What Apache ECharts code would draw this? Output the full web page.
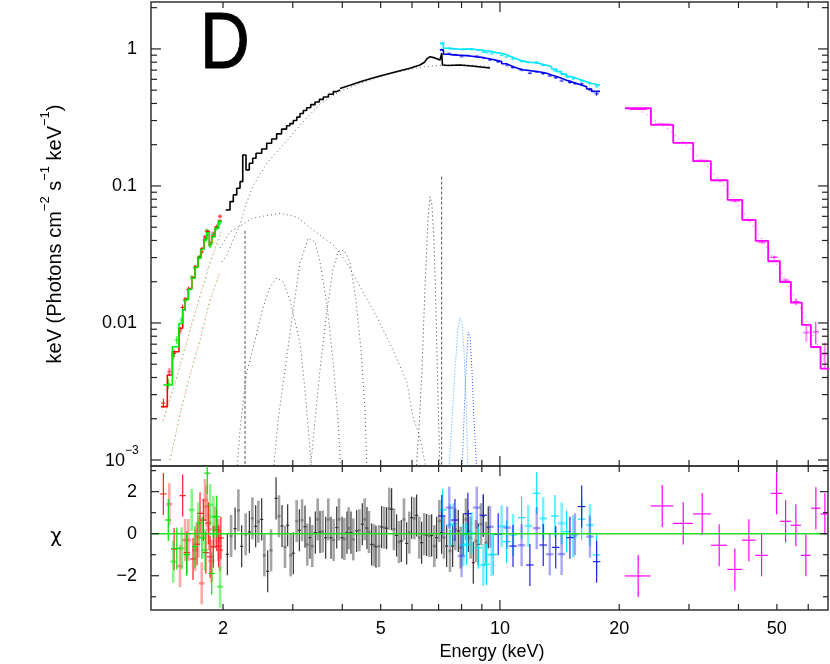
<!DOCTYPE html>
<html>
<head>
<meta charset="utf-8">
<script src="https://cdn.jsdelivr.net/npm/echarts/dist/echarts.min.js"></script>
<style>
  html, body { margin: 0; padding: 0; background: #fff; }
  #chart { width: 830px; height: 664px; }
</style>
</head>
<body>
<div id="chart"></div>
<script>
// axis ranges
const E_MIN = 1.316, E_MAX = 67.3
const F_MIN = 0.000904, F_MAX = 2.2
const CHI_MIN = -3.63, CHI_MAX = 3.22

// ticks and tick labels
const xMinorTicks = [2, 3, 4, 5, 6, 7, 8, 9, 20, 30, 40, 50, 60]
const xMajorTicks = [10]
const xTickLabels = [2, 5, 10, 20, 50]
const fMajorTicks = [0.001, 0.01, 0.1, 1]
const fMinorTicks = [0.002, 0.003, 0.004, 0.005, 0.006, 0.007, 0.008, 0.009,
  0.02, 0.03, 0.04, 0.05, 0.06, 0.07, 0.08, 0.09,
  0.2, 0.3, 0.4, 0.5, 0.6, 0.7, 0.8, 0.9, 2]
const fTickLabels = ['10', '0.01', '0.1', '1']
const chiMajorTicks = [-2, 0, 2]
const chiMinorTicks = [-3, -1, 1, 3]
const chiTickLabels = ['\u22122', '0', '2']

// ---- model step histograms (bin edges, values)
const redEdges = [1.395, 1.447, 1.490, 1.548, 1.582, 1.605, 1.635, 1.668, 1.700, 1.730, 1.760, 1.790, 1.819, 1.847, 1.873, 1.910, 1.948, 1.985]
const redModel = [0.00245, 0.00417, 0.00617, 0.00914, 0.01245, 0.0150, 0.0178, 0.0215, 0.0258, 0.0300, 0.0350, 0.0410, 0.0465, 0.0385, 0.0430, 0.0495, 0.0560]
const greenEdges = [1.414, 1.490, 1.548, 1.582, 1.605, 1.635, 1.668, 1.700, 1.730, 1.760, 1.790, 1.819, 1.847, 1.873, 1.910, 1.948, 1.985]
const greenModel = [0.00353, 0.00671, 0.0099, 0.0125, 0.0148, 0.0176, 0.0212, 0.0255, 0.0298, 0.0345, 0.0405, 0.0455, 0.0375, 0.0425, 0.0490, 0.0555]
const blackEdges = [2.031, 2.083, 2.123, 2.166, 2.208, 2.243, 2.286, 2.330, 2.377, 2.423, 2.504, 2.578, 2.653, 2.731, 2.811, 2.894, 2.950, 3.009,
  3.070, 3.128, 3.190, 3.252, 3.330, 3.414, 3.500, 3.583, 3.690, 3.797, 3.870, 3.947]
const blackModel = [0.0668, 0.0768, 0.0860, 0.0962, 0.1075, 0.1684, 0.1309, 0.1464, 0.1593, 0.1733, 0.1860, 0.2050, 0.2200, 0.2400, 0.2600, 0.2750, 0.2850,
  0.300, 0.318, 0.338, 0.355, 0.372, 0.392, 0.410, 0.428, 0.446, 0.467, 0.488, 0.502]
const blackLineE = [3.947, 4.20, 4.44, 4.75, 5.09, 5.50, 5.93, 6.28, 6.45, 6.55, 6.66, 6.85, 7.06, 7.11, 7.13, 7.16, 7.40, 7.92, 8.60, 9.44]
const blackLineF = [0.515, 0.545, 0.577, 0.610, 0.646, 0.685, 0.723, 0.764, 0.800, 0.850, 0.878, 0.860, 0.831, 0.830, 0.930, 0.764, 0.757, 0.764, 0.748, 0.725]
const xrtEdges = [7.06, 7.20, 7.40, 7.625, 7.90, 8.24, 8.50, 8.735, 9.00, 9.25, 9.55, 9.81, 10.10, 10.39, 10.65, 10.91, 11.20, 11.45, 11.90, 12.38, 12.75, 13.12, 13.50, 13.91, 14.30, 14.73, 15.15, 15.61, 16.05, 16.55, 17.04, 17.88]
const cyanModel = [1.09, 1.012, 1.005, 0.995, 0.998, 1.0, 0.99, 0.983, 0.970, 0.956, 0.940, 0.930, 0.905, 0.879, 0.855, 0.831, 0.815, 0.800, 0.790, 0.777, 0.760, 0.743, 0.713, 0.683, 0.655, 0.628, 0.610, 0.594, 0.577, 0.560, 0.546]
const blueModel = [0.983, 0.915, 0.905, 0.900, 0.894, 0.885, 0.875, 0.870, 0.855, 0.841, 0.825, 0.808, 0.780, 0.755, 0.735, 0.715, 0.705, 0.694, 0.685, 0.675, 0.665, 0.645, 0.630, 0.610, 0.590, 0.577, 0.560, 0.546, 0.530, 0.510, 0.490]
const pinEdges = [20.68, 24.05, 27.37, 30.74, 34.07, 37.55, 40.88, 44.19, 47.53, 50.88, 54.26, 57.81, 60.93, 64.45, 67.8]
const pinModel = [0.369, 0.2788, 0.2060, 0.1515, 0.1100, 0.0790, 0.0565, 0.0397, 0.0282, 0.0199, 0.01406, 0.00967, 0.00668, 0.00464]

// ---- model components (dotted)
const compAE = [1.988, 2.047, 2.120, 2.208, 2.273, 2.380, 2.582, 2.867, 3.166, 3.514, 3.947, 4.511, 5.186, 6.283, 7.060, 7.925, 9.436]
const compAF = [0.0279, 0.0314, 0.0404, 0.0519, 0.0703, 0.100, 0.147, 0.206, 0.288, 0.397, 0.490, 0.570, 0.650, 0.735, 0.760, 0.770, 0.745]
const compBE = [1.966, 2.083, 2.208, 2.380, 2.788, 3.074, 3.372, 3.800, 4.108, 4.439, 4.891, 5.374, 5.830, 6.033, 6.283, 6.543]
const compBF = [0.0353, 0.0461, 0.0510, 0.0584, 0.0632, 0.0594, 0.0477, 0.0371, 0.0274, 0.0183, 0.01106, 0.00635, 0.00365, 0.00206, 0.00147, 0.0008]
const line1E = [2.166, 2.208, 2.296, 2.385, 2.527, 2.628, 2.733, 2.840, 2.952, 3.128, 3.221, 3.316, 3.354]
const line1F = [0.0008, 0.00166, 0.00439, 0.00668, 0.0131, 0.0183, 0.0213, 0.0199, 0.01472, 0.00714, 0.00324, 0.00118, 0.0008]
const line2E = [2.679, 2.754, 2.868, 2.987, 3.128, 3.284, 3.414, 3.514, 3.660, 3.789, 3.901, 3.970]
const line2F = [0.0008, 0.00196, 0.00454, 0.01088, 0.0274, 0.0417, 0.0390, 0.0279, 0.01353, 0.00537, 0.00196, 0.0008]
const line3E = [3.316, 3.414, 3.514, 3.660, 3.789, 3.901, 4.041, 4.183, 4.331, 4.460, 4.565, 4.618]
const line3F = [0.0008, 0.00196, 0.00454, 0.01245, 0.02437, 0.0330, 0.0341, 0.0279, 0.01472, 0.00635, 0.00232, 0.0008]
const fe1E = [6.138, 6.245, 6.355, 6.466, 6.580, 6.661, 6.734, 6.814, 6.895, 6.978, 7.060]
const fe1F = [0.0008, 0.00166, 0.00454, 0.0174, 0.0565, 0.0835, 0.0727, 0.0404, 0.01245, 0.00274, 0.0008]
const fe2E = [7.436, 7.567, 7.700, 7.834, 7.925, 8.018, 8.112, 8.207, 8.304]
const fe2F = [0.0008, 0.00196, 0.00454, 0.00889, 0.01088, 0.01017, 0.00635, 0.00274, 0.0008]
const fe3E = [8.018, 8.112, 8.207, 8.318, 8.401, 8.499, 8.598, 8.750]
const fe3F = [0.0008, 0.00196, 0.00454, 0.0086, 0.00804, 0.00454, 0.00196, 0.0008]
const edgeE = [2.273, 7.126]
const edgeTopF = [0.047, 0.117]
const rgCompAE = [1.411, 1.487, 1.558, 1.651, 1.750, 1.855, 1.977]
const rgCompAF = [0.00196, 0.00313, 0.00494, 0.00889, 0.0160, 0.0279, 0.0461]
const rgCompBE = [1.470, 1.573, 1.651, 1.750, 1.855, 1.966]
const rgCompBF = [0.001, 0.00244, 0.00417, 0.00751, 0.01472, 0.02357]
const pinCompE = [22.34, 23.9, 26.6, 29.5, 33.2, 36.97, 41.5, 45.3, 50.9, 57.15, 64.2, 67.3]
const pinCompF = [0.365, 0.321, 0.2594, 0.199, 0.1423, 0.0988, 0.0625, 0.0432, 0.0244, 0.01315, 0.00635, 0.0048]

// ---- data points, upper panel (energy, flux, flux error)
const redDataE = [1.414, 1.464, 1.505, 1.558, 1.582, 1.604, 1.635, 1.700, 1.750, 1.767, 1.801, 1.819, 1.855, 1.891, 1.928, 1.966]
const redDataF = [0.0026, 0.0044, 0.0060, 0.0088, 0.0130, 0.0148, 0.0176, 0.0255, 0.0305, 0.0330, 0.0425, 0.0470, 0.0375, 0.0450, 0.0505, 0.0600]
const redDataErr = [0.0002, 0.0003, 0.0004, 0.0005, 0.0006, 0.0007, 0.0008, 0.0010, 0.0012, 0.0014, 0.0015, 0.0016, 0.0015, 0.0016, 0.0018, 0.0020]
const greenDataE = [1.455, 1.498, 1.529, 1.573, 1.604, 1.667, 1.700, 1.733, 1.801, 1.825, 1.855, 1.891, 1.928, 1.966]
const greenDataF = [0.0036, 0.0058, 0.0075, 0.0105, 0.0145, 0.0215, 0.0252, 0.0300, 0.0400, 0.0470, 0.0365, 0.0440, 0.0490, 0.0540]
const greenDataErr = [0.0003, 0.0004, 0.0005, 0.0006, 0.0007, 0.0009, 0.0010, 0.0012, 0.0015, 0.0016, 0.0015, 0.0016, 0.0017, 0.0020]
const cyanDataE = [7.17, 7.48, 7.625, 8.08, 8.24, 8.48, 8.815, 9.08, 9.25, 9.53, 10.1, 10.39, 10.79, 11.34, 11.79, 12.38, 12.86, 13.77, 14.31, 14.73, 15.31, 16.08, 16.87, 17.54]
const cyanDataF = [1.11, 1.01, 1.0, 0.99, 0.995, 0.99, 0.975, 0.95, 0.94, 0.925, 0.90, 0.875, 0.845, 0.81, 0.795, 0.80, 0.76, 0.695, 0.66, 0.63, 0.605, 0.585, 0.56, 0.535]
const cyanDataErr = [0.016, 0.012, 0.012, 0.012, 0.012, 0.012, 0.012, 0.012, 0.012, 0.012, 0.012, 0.012, 0.012, 0.013, 0.013, 0.013, 0.013, 0.013, 0.013, 0.014, 0.014, 0.014, 0.015, 0.016]
const blueDataE = [7.13, 7.45, 7.70, 8.0, 8.3, 8.74, 9.08, 9.44, 9.90, 10.43, 10.79, 11.34, 11.9, 12.38, 12.86, 13.36, 13.83, 14.31, 15.02, 15.46, 16.08, 16.87, 17.54]
const blueDataF = [0.99, 0.925, 0.91, 0.88, 0.895, 0.885, 0.86, 0.83, 0.805, 0.76, 0.73, 0.70, 0.665, 0.68, 0.66, 0.635, 0.615, 0.585, 0.57, 0.56, 0.555, 0.505, 0.47]
const blueDataErr = [0.015, 0.012, 0.012, 0.012, 0.012, 0.012, 0.012, 0.012, 0.012, 0.012, 0.012, 0.012, 0.012, 0.013, 0.013, 0.013, 0.013, 0.013, 0.014, 0.014, 0.014, 0.015, 0.016]
const pinDataE = [22.37, 25.7, 29.05, 32.4, 35.8, 39.2, 42.5, 45.85, 49.2, 52.6, 55.9, 59.35, 62.7, 66.05]
const pinDataF = [0.362, 0.283, 0.2075, 0.153, 0.1093, 0.0775, 0.0562, 0.0388, 0.0302, 0.0205, 0.0143, 0.0085, 0.0086, 0.0059]
const pinDataErr = [0.004, 0.004, 0.003, 0.0025, 0.002, 0.0015, 0.0012, 0.0009, 0.0008, 0.0007, 0.0008, 0.0012, 0.0016, 0.0013]

// ---- residuals (energy, chi)
const redResE = [1.414, 1.464, 1.505, 1.558, 1.582, 1.604, 1.620, 1.635, 1.680, 1.700, 1.720, 1.733, 1.750, 1.767, 1.784, 1.801, 1.810, 1.819, 1.837, 1.845, 1.855, 1.870, 1.891, 1.910, 1.928, 1.946, 1.950, 1.966, 1.975]
const redResChi = [1.89, 1.40, -0.73, -1.54, 1.81, -0.30, -0.90, -0.30, -1.20, -0.78, -0.50, -0.14, 0.97, -2.36, 0.65, 1.60, -0.90, 1.29, 0.50, 0.20, -1.10, -1.30, -0.62, 0.30, 0.18, -0.30, -0.60, -0.78, -0.20]
const greenResE = [1.455, 1.498, 1.529, 1.573, 1.620, 1.667, 1.700, 1.733, 1.770, 1.801, 1.825, 1.855, 1.873, 1.891, 1.928, 1.966]
const greenResChi = [0.65, -1.33, -0.70, -0.70, -1.00, 1.13, -0.62, 0.50, -0.20, -0.78, 2.88, 1.37, -1.89, 0.81, 0.81, -2.52]
const blackResE = [2.051, 2.096, 2.145, 2.187, 2.229, 2.282, 2.331, 2.372, 2.418, 2.456, 2.504, 2.543, 2.593, 2.644, 2.722, 2.769, 2.818, 2.867, 2.912, 2.963,
  3.009, 3.068, 3.117, 3.166, 3.221, 3.264, 3.315, 3.360, 3.420, 3.467, 3.514, 3.569, 3.632, 3.688, 3.746, 3.804, 3.873, 3.924, 3.994, 4.048,
  4.111, 4.151, 4.207, 4.264, 4.348, 4.417, 4.493, 4.555, 4.617, 4.671, 4.745, 4.809, 4.865, 4.951, 5.028, 5.107, 5.176, 5.257, 5.328, 5.400,
  5.485, 5.560, 5.636, 5.725, 5.815, 5.905, 5.985, 6.079, 6.162, 6.259, 6.344, 6.443, 6.531, 6.634, 6.724, 6.830, 6.923, 7.031, 7.125, 7.223,
  7.337, 7.480, 7.597, 7.716, 7.850, 7.957, 8.081, 8.207, 8.320, 8.433, 8.565, 8.699, 8.817, 8.956, 9.078, 9.220, 9.344]
const blackResChi = [-0.98, -0.11, 0.24, 1.11, -0.60, -0.03, 0.08, 0.73, 0.35, 0.57, 0.68, -1.03, -1.79, -0.79, 1.68, 0.83, 0.37, -0.63, 0.40, -1.03,
  -0.93, 0.60, 0.16, 0.64, 0.33, -0.52, -0.19, -0.59, 0.05, 0.68, 0.08, 0.10, -0.19, 0.68, -0.19, -0.30, 0.29, 0.68, -0.19, -0.25,
  0.05, 0.26, 0.05, -0.27, 0.13, 0.16, 0.45, 0.68, 0.27, 0.08, -0.51, -0.55, -0.62, -0.59, 0.32, 0.29, 0.26, 1.19, 1.16, 0.21,
  -0.08, -0.40, -0.35, 0.68, -0.46, 0.05, 0.76, 0.73, 0.87, -0.19, -0.43, -0.03, -0.06, -0.11, -0.08, -0.59, -0.19, 0.60, 0.05, -0.19,
  -0.59, -0.82, -0.59, 0.21, 0.13, -0.66, -0.03, 0.68, 0.13, -0.19, -1.38, -0.35, -0.51, 0.45, 0.84, -0.43, 0.29]
const cyanResE = [7.17, 7.48, 7.625, 8.08, 8.24, 8.48, 8.815, 9.08, 9.25, 9.53, 9.62, 10.1, 10.39, 10.79, 11.34, 11.79, 12.38, 12.86, 13.77, 14.31, 14.73, 15.31, 16.08, 16.87, 17.54]
const cyanResChi = [1.13, 0.41, 0.45, -0.54, -0.50, 0.02, -0.67, -1.49, -1.46, -1.01, -0.98, 0.35, -0.38, -0.06, 0.76, 0.37, 1.92, 0.73, 0.84, 0.49, 0.10, -0.14, 0.69, 0.41, -1.01]
const blueResE = [7.13, 7.45, 7.70, 8.0, 8.3, 8.74, 9.08, 9.44, 9.90, 10.43, 10.79, 11.34, 11.9, 12.38, 12.86, 13.36, 13.83, 14.31, 15.02, 15.46, 16.08, 16.87, 17.54]
const blueResChi = [0.84, 1.24, 0.65, -1.06, 0.95, 1.24, 0.88, 0.33, -0.03, 0.29, -0.59, -0.55, -1.49, 0.26, -0.54, -0.98, -0.65, -0.97, -0.19, -0.03, 1.29, -0.14, -1.33]
const pinResE = [22.33, 25.68, 29.01, 32.4, 35.76, 39.17, 42.49, 45.75, 49.91, 52.6, 55.83, 59.17, 62.72, 66.09]
const pinResChi = [-2.01, 1.32, 0.49, 0.94, -0.55, -1.70, -0.31, -1.03, 1.92, 0.59, 0.40, -1.03, 1.21, 0.94]

const FONT = '"Liberation Sans", Arial, Helvetica, sans-serif'

function stepData (edges, vals) {
  let out = vals.map((v, i) => [edges[i], v])
  out.push([edges[edges.length - 1], vals[vals.length - 1]])
  return out
}
function zip (xs, ys) {
  return xs.map((x, i) => [x, ys[i]])
}

function lineSeries (gi, data, color, width, type, z, step) {
  return {
    type: 'line', xAxisIndex: gi, yAxisIndex: gi, data,
    step: step || false, symbol: 'none', silent: true, animation: false, z,
    lineStyle: { color, width, type: type || 'solid' }
  }
}

// error crosses: [x, xlo, xhi, y, ylo, yhi, alt]
function crossSeries (gi, items, colors, widths, z) {
  return {
    type: 'custom', xAxisIndex: gi, yAxisIndex: gi, silent: true, clip: true, z, animation: false,
    dimensions: ['x', 'xlo', 'xhi', 'y', 'ylo', 'yhi', 'alt'],
    encode: { x: 0, y: 3 },
    data: items,
    renderItem (params, api) {
      let alt = api.value(6)
      let st = { stroke: colors[alt], lineWidth: widths[alt] }
      let a = api.coord([api.value(1), api.value(3)])
      let b = api.coord([api.value(2), api.value(3)])
      let c = api.coord([api.value(0), api.value(4)])
      let d = api.coord([api.value(0), api.value(5)])
      return {
        type: 'group',
        children: [
          { type: 'line', shape: { x1: a[0], y1: a[1], x2: b[0], y2: b[1] }, style: st },
          { type: 'line', shape: { x1: c[0], y1: c[1], x2: d[0], y2: d[1] }, style: st }
        ]
      }
    }
  }
}

function dataItems (E, F, err, frac) {
  return E.map((e, i) => [e, e * (1 - frac), e * (1 + frac), F[i], F[i] - err[i], F[i] + err[i], i % 2])
}
function resItems (E, chi, frac) {
  return E.map((e, i) => [e, e * (1 - frac), e * (1 + frac), chi[i], chi[i] - 1, chi[i] + 1, i % 2])
}
function resItemsAbs (E, chi, half) {
  return E.map((e, i) => [e, e - half, e + half, chi[i], chi[i] - 1, chi[i] + 1, 0])
}

function textEl (x, y, text, size, align, valign) {
  return {
    type: 'text', x, y,
    style: {
      text, x: 0, y: 0, fill: '#000', font: size + 'px ' + FONT,
      fontSize: size, fontFamily: FONT,
      align, textAlign: align, verticalAlign: valign, textVerticalAlign: valign
    }
  }
}

// frame ticks and tick labels, drawn through the axes of one grid
function frameSeries (gi, yMin, yMax, yMajor, yMinor, yMajorLen, yMinorLen, yLabels, withXLabels, probe) {
  return {
    type: 'custom', xAxisIndex: gi, yAxisIndex: gi, silent: true, clip: false, z: 20, animation: false,
    data: [probe],
    renderItem (params, api) {
      let kids = []
      let seg = (p, q) => kids.push({ type: 'line', shape: { x1: p[0], y1: p[1], x2: q[0], y2: q[1] }, style: { stroke: '#222', lineWidth: 1.2 } })
      xMinorTicks.map(v => [v, 6]).concat(xMajorTicks.map(v => [v, 10])).forEach(([v, len]) => {
        let b = api.coord([v, yMin])
        let t = api.coord([v, yMax])
        seg(b, [b[0], b[1] - len])
        seg(t, [t[0], t[1] + len])
      })
      yMinor.map(v => [v, yMinorLen]).concat(yMajor.map(v => [v, yMajorLen])).forEach(([v, len]) => {
        let l = api.coord([E_MIN, v])
        let r = api.coord([E_MAX, v])
        seg(l, [l[0] + len, l[1]])
        seg(r, [r[0] - len, r[1]])
      })
      yMajor.forEach((v, i) => {
        let l = api.coord([E_MIN, v])
        if (gi === 0 && i === 0) {
          kids.push(textEl(l[0] - 26, l[1] + 1, yLabels[i], 18, 'right', 'middle'))
          kids.push(textEl(l[0] - 26, l[1] - 9, '\u22123', 12, 'left', 'middle'))
        } else {
          kids.push(textEl(l[0] - 14, l[1], yLabels[i], 18, 'right', 'middle'))
        }
      })
      if (withXLabels) {
        xTickLabels.forEach(v => {
          let b = api.coord([v, yMin])
          kids.push(textEl(b[0], b[1] + 19, String(v), 18, 'center', 'middle'))
        })
      }
      return { type: 'group', children: kids }
    }
  }
}

const series = [
  // model components, upper panel
  lineSeries(0, zip(compAE, compAF), '#666', 1, [1, 3], 2),
  lineSeries(0, zip(compBE, compBF), '#666', 1, [1, 3], 2),
  lineSeries(0, zip(line1E, line1F), '#555', 1, [1, 3], 2),
  lineSeries(0, zip(line2E, line2F), '#555', 1, [1, 3], 2),
  lineSeries(0, zip(line3E, line3F), '#555', 1, [1, 3], 2),
  lineSeries(0, zip(fe1E, fe1F), '#333', 1, [1, 3], 2),
  lineSeries(0, zip(fe2E, fe2F), '#33aaff', 1, [1, 2], 2),
  lineSeries(0, zip(fe3E, fe3F), '#3355ff', 1, [1, 2], 2),
  lineSeries(0, [[edgeE[0], edgeTopF[0]], [edgeE[0], 0.0008]], '#555', 1, [3, 2], 2),
  lineSeries(0, [[edgeE[1], edgeTopF[1]], [edgeE[1], 0.0008]], '#555', 1, [3, 2], 2),
  lineSeries(0, zip(rgCompAE, rgCompAF), 'rgba(255,80,80,0.8)', 1, [1, 3], 2),
  lineSeries(0, zip(rgCompAE, rgCompAF.map(v => v * 0.97)), 'rgba(60,220,60,0.8)', 1, [1, 4], 2),
  lineSeries(0, zip(rgCompBE, rgCompBF), 'rgba(255,80,80,0.8)', 1, [1, 3], 2),
  lineSeries(0, zip(rgCompBE, rgCompBF), 'rgba(60,220,60,0.8)', 1, [1, 4], 2),
  lineSeries(0, zip(pinCompE, pinCompF), 'rgba(255,60,255,0.7)', 1.2, [1, 4], 2),
  // data crosses, upper panel
  crossSeries(0, dataItems(redDataE, redDataF, redDataErr, 0.012), ['#ff0000', 'rgba(255,0,0,0.5)'], [1, 2], 3),
  crossSeries(0, dataItems(greenDataE, greenDataF, greenDataErr, 0.012), ['#00ee00', 'rgba(0,230,0,0.5)'], [1, 2], 3),
  crossSeries(0, dataItems(cyanDataE, cyanDataF, cyanDataErr, 0.012), ['#00e5ff', 'rgba(0,230,255,0.55)'], [1, 2], 3),
  crossSeries(0, dataItems(blueDataE, blueDataF, blueDataErr, 0.012), ['#1010ee', 'rgba(40,40,240,0.5)'], [1, 2], 3),
  crossSeries(0, pinDataE.map((e, i) => [e, e - 1.1, e + 1.1, pinDataF[i], pinDataF[i] - pinDataErr[i], pinDataF[i] + pinDataErr[i], i % 2]), ['#ff00ff', 'rgba(255,0,255,0.45)'], [1, 2], 3),
  // model steps, upper panel
  lineSeries(0, stepData(redEdges, redModel), '#ff0000', 1.6, 'solid', 5, 'end'),
  lineSeries(0, stepData(greenEdges, greenModel), '#00ee00', 1.6, 'solid', 5, 'end'),
  lineSeries(0, stepData(blackEdges, blackModel), '#000', 1.6, 'solid', 5, 'end'),
  lineSeries(0, zip(blackLineE, blackLineF), '#000', 1.6, 'solid', 5),
  lineSeries(0, stepData(xrtEdges, cyanModel), '#00e5ff', 1.6, 'solid', 5, 'end'),
  lineSeries(0, stepData(xrtEdges, blueModel), '#0000ee', 1.6, 'solid', 5, 'end'),
  lineSeries(0, stepData(pinEdges, pinModel), '#ff00ff', 1.8, 'solid', 5, 'end'),
  // residuals
  crossSeries(1, resItems(blackResE, blackResChi, 0.009), ['#333', 'rgba(90,90,90,0.55)'], [1.2, 2.6], 3),
  crossSeries(1, resItems(redResE, redResChi, 0.018), ['#ff2020', 'rgba(255,60,60,0.45)'], [1.2, 2.6], 3),
  crossSeries(1, resItems(greenResE, greenResChi, 0.018), ['#00e000', 'rgba(0,230,0,0.45)'], [1.2, 2.6], 3),
  crossSeries(1, resItems(cyanResE, cyanResChi, 0.022), ['#00e5ff', 'rgba(0,230,255,0.55)'], [1.2, 2.4], 3),
  crossSeries(1, resItems(blueResE, blueResChi, 0.022), ['#2020ee', 'rgba(60,60,240,0.45)'], [1.2, 2.4], 3),
  crossSeries(1, resItemsAbs(pinResE, pinResChi, 1.68), ['#ff00ff', '#ff00ff'], [1.2, 1.2], 3),
  lineSeries(1, [[E_MIN, 0], [E_MAX, 0]], '#22dd22', 1.6, 'solid', 6),
  // frames
  frameSeries(0, F_MIN, F_MAX, fMajorTicks, fMinorTicks, 10, 6, fTickLabels, false, [10, 0.1]),
  frameSeries(1, CHI_MIN, CHI_MAX, chiMajorTicks, chiMinorTicks, 8, 5, chiTickLabels, true, [10, 0])
]

const hiddenAxis = {
  axisLine: { show: false }, axisTick: { show: false }, axisLabel: { show: false },
  splitLine: { show: false }, minorTick: { show: false }
}

const chart = echarts.init(document.getElementById('chart'), null, { renderer: 'canvas' })
chart.setOption({
  animation: false,
  backgroundColor: '#fff',
  grid: [
    { left: 151, top: 2, width: 677, height: 464, show: true, borderColor: '#333', borderWidth: 1.5, backgroundColor: 'transparent' },
    { left: 151, top: 466, width: 677, height: 144, show: true, borderColor: '#333', borderWidth: 1.5, backgroundColor: 'transparent' }
  ],
  xAxis: [
    Object.assign({ type: 'log', logBase: 10, gridIndex: 0, min: E_MIN, max: E_MAX }, hiddenAxis),
    Object.assign({ type: 'log', logBase: 10, gridIndex: 1, min: E_MIN, max: E_MAX }, hiddenAxis)
  ],
  yAxis: [
    Object.assign({ type: 'log', logBase: 10, gridIndex: 0, min: F_MIN, max: F_MAX }, hiddenAxis),
    Object.assign({ type: 'value', gridIndex: 1, min: CHI_MIN, max: CHI_MAX }, hiddenAxis)
  ],
  graphic: [
    {
      type: 'text', x: 200, y: 6, scaleX: 0.86,
      style: { text: 'D', font: '80px ' + FONT, fill: '#000', stroke: '#000', lineWidth: 1 }
    },
    {
      type: 'text', x: 492, y: 652,
      style: { text: 'Energy (keV)', font: '18px ' + FONT, fill: '#000', align: 'center', textAlign: 'center', verticalAlign: 'middle', textVerticalAlign: 'middle' }
    },
    {
      type: 'text', x: 56, y: 537,
      style: { text: '\u03c7', font: '20px "DejaVu Sans", ' + FONT, fill: '#000', align: 'center', textAlign: 'center', verticalAlign: 'middle', textVerticalAlign: 'middle' }
    },
    {
      type: 'text', x: 52, y: 234, rotation: Math.PI / 2,
      style: {
        text: '{m|keV (Photons cm}{s|\u22122}{m| s}{s|\u22121}{m| keV}{s|\u22121}{m|)}',
        fill: '#000', align: 'center', textAlign: 'center', verticalAlign: 'middle', textVerticalAlign: 'middle',
        rich: {
          m: { fontSize: 20, fontFamily: FONT, lineHeight: 26, verticalAlign: 'bottom' },
          s: { fontSize: 13, fontFamily: FONT, lineHeight: 26, verticalAlign: 'top' }
        }
      }
    }
  ],
  series
})
</script>
</body>
</html>
